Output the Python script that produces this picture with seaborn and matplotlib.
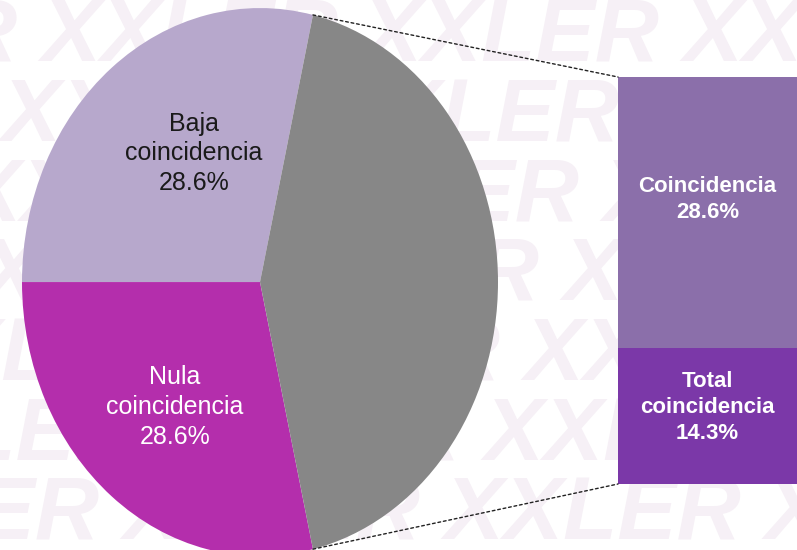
"""
Pie-of-bar: nivel de coincidencia
"""

import numpy as np
import matplotlib.pyplot as plt
import seaborn as sns
from matplotlib.patches import ConnectionPatch

sns.set_theme(style="white")
plt.rcParams["font.family"] = ["Liberation Sans", "DejaVu Sans"]

# data
pie_labels = ["Baja\ncoincidencia", "Nula\ncoincidencia", "Coincidencia y\ntotal coincidencia"]
pie_values = [28.6, 28.6, 42.9]
pie_colors = ["#b7a8cc", "#b42eac", "#878787"]

bar_labels = ["Coincidencia", "Total\ncoincidencia"]
bar_values = [28.6, 14.3]
bar_colors = ["#8b6faa", "#7b38a8"]

fig = plt.figure(figsize=(7.97, 5.5), dpi=100)

# faint watermark in the background
for i, y in enumerate(np.arange(0.93, -0.1, -0.145)):
    fig.text(-0.35 - 0.05 * i, y, "XXLER " * 5, fontsize=64, fontweight="bold",
             fontstyle="italic", color="#f6f0f6", va="center", ha="left", zorder=-10)

# pie (stretched to an ellipse like the original)
ax_pie = fig.add_axes([22 / 797, -0.011, 476 / 797, 548 / 550])
start = 180 * pie_values[2] / sum(pie_values)
wedges, _ = ax_pie.pie(pie_values, colors=pie_colors, startangle=start,
                       wedgeprops=dict(linewidth=0))
ax_pie.set_aspect("auto")
ax_pie.set_xlim(-1, 1)
ax_pie.set_ylim(-1, 1)
ax_pie.axis("off")

ax_pie.text(-0.277, 0.47, f"{pie_labels[0]}\n{pie_values[0]}%", ha="center", va="center",
            fontsize=18, color="#1a1a1a", linespacing=1.3)
ax_pie.text(-0.357, -0.456, f"{pie_labels[1]}\n{pie_values[1]}%", ha="center", va="center",
            fontsize=18, color="white", linespacing=1.3)

# stacked bar (drawn seaborn-style: total first, then the lower part on top)
ax_bar = fig.add_axes([618 / 797, 0.12, 1 - 618 / 797, 0.74])
total = sum(bar_values)
sns.barplot(x=["x"], y=[total], color=bar_colors[0], saturation=1, width=1,
            linewidth=0, ax=ax_bar)
sns.barplot(x=["x"], y=[bar_values[1]], color=bar_colors[1], saturation=1, width=1,
            linewidth=0, ax=ax_bar)
ax_bar.set_xlim(-0.5, 0.5)
ax_bar.set_ylim(0, total)
ax_bar.axis("off")

ax_bar.text(0, bar_values[1] + bar_values[0] / 2 + 1.4, f"{bar_labels[0]}\n{bar_values[0]}%",
            ha="center", va="center", fontsize=16, fontweight="bold", color="white", linespacing=1.3)
ax_bar.text(0, bar_values[1] / 2 + 0.9, f"{bar_labels[1]}\n{bar_values[1]}%",
            ha="center", va="center", fontsize=16, fontweight="bold", color="white", linespacing=1.3)

# dotted connectors from the grey slice to the bar
ang = np.deg2rad(start)
for sign, yb in [(1, total), (-1, 0)]:
    con = ConnectionPatch(xyA=(np.cos(ang), sign * np.sin(ang)), coordsA=ax_pie.transData,
                          xyB=(-0.5, yb), coordsB=ax_bar.transData,
                          color="#222222", linewidth=1, linestyle=(0, (2, 2)))
    fig.add_artist(con)

fig.savefig("out.png", dpi=100)
